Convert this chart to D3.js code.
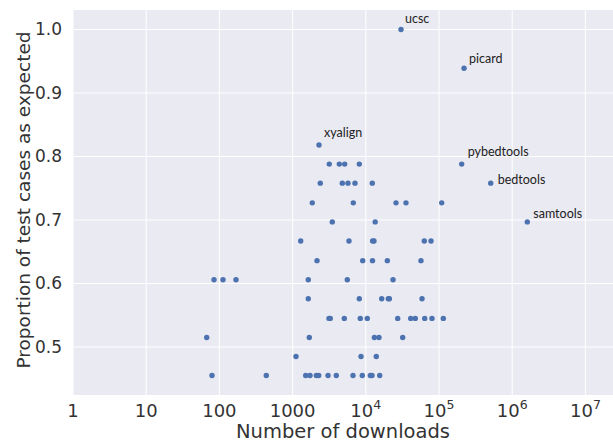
<!DOCTYPE html>
<html lang="en">
<head>
<meta charset="UTF-8">
<title>Downloads vs proportion of test cases</title>
<script src="https://cdnjs.cloudflare.com/ajax/libs/d3/7.8.5/d3.min.js"></script>
<style>
    body { margin: 0; background: #fff; }
    svg { display: block; }
    .tick-label { font-family: "DejaVu Sans", sans-serif; fill: #333; }
    .axis-title { font-family: "DejaVu Sans", sans-serif; fill: #333; }
    .tool-label { font-family: Lato, "Open Sans", sans-serif; fill: #222; }
</style>
</head>
<body>
<div id="chart"></div>
<script>
    // Data
    const downloads = [
        30270, 219800, 2295,
        3170, 4345, 5150, 8150, 204200,
        2390, 4775, 5710, 7115, 12270, 508500,
        1858, 6745, 25860, 35410, 108900,
        3485, 13430, 1608000,
        1290, 5890, 12400, 12940, 62950, 77800,
        2155, 9070, 12350, 19680, 56760,
        84.4, 112, 168.6, 1637, 5590, 23540,
        1637, 8150, 16490, 20300, 21000, 58620,
        3142, 3272, 5085, 8410, 10480, 27290, 41050, 47430, 63790, 80220, 114500,
        67.1, 1691, 13100, 15140, 31920,
        1113, 8600, 13910,
        79.2, 437, 1510, 1729, 2108, 2274, 3048, 3955, 6685, 8955, 11530, 12160, 15490
    ];
    const proportion = [
        1.000, 0.939, 0.818,
        0.788, 0.788, 0.788, 0.788, 0.788,
        0.758, 0.758, 0.758, 0.758, 0.758, 0.758,
        0.727, 0.727, 0.727, 0.727, 0.727,
        0.697, 0.697, 0.697,
        0.667, 0.667, 0.667, 0.667, 0.667, 0.667,
        0.636, 0.636, 0.636, 0.636, 0.636,
        0.606, 0.606, 0.606, 0.606, 0.606, 0.606,
        0.576, 0.576, 0.576, 0.576, 0.576, 0.576,
        0.545, 0.545, 0.545, 0.545, 0.545, 0.545, 0.545, 0.545, 0.545, 0.545, 0.545,
        0.515, 0.515, 0.515, 0.515, 0.515,
        0.485, 0.485, 0.485,
        0.455, 0.455, 0.455, 0.455, 0.455, 0.455, 0.455, 0.455, 0.455, 0.455, 0.455, 0.455, 0.455
    ];

    // Named tools (index into the arrays above)
    const toolNames = ["ucsc", "picard", "xyalign", "pybedtools", "bedtools", "samtools"];
    const toolIndex = [0, 1, 2, 7, 13, 21];

    const xTickExponents = [0, 1, 2, 3, 4, 5, 6, 7];
    const yTicks = [0.5, 0.6, 0.7, 0.8, 0.9, 1.0];

    // Label offsets from the dot (px)
    const labelOffset = [[4, -11], [5, -10], [5, -12], [6, -12], [7, -4], [6, -8]];

    const width = 613;
    const height = 444;
    const margin = { top: 10, right: 0, bottom: 49, left: 73 };

    const svg = d3.select("#chart")
        .append("svg")
        .attr("width", width)
        .attr("height", height);

    const x = d3.scaleLog()
        .domain([1, Math.pow(10, 7.377)])
        .range([margin.left, width - margin.right]);

    const y = d3.scaleLinear()
        .domain([0.4244, 1.0307])
        .range([height - margin.bottom, margin.top]);

    // Background
    svg.append("rect")
        .attr("x", margin.left)
        .attr("y", margin.top)
        .attr("width", width - margin.left - margin.right)
        .attr("height", height - margin.top - margin.bottom)
        .attr("fill", "#eaeaf2");

    // Grid
    svg.append("g")
        .selectAll("line")
        .data(xTickExponents)
        .join("line")
        .attr("x1", d => x(Math.pow(10, d)))
        .attr("x2", d => x(Math.pow(10, d)))
        .attr("y1", margin.top)
        .attr("y2", height - margin.bottom)
        .attr("stroke", "#fff")
        .attr("stroke-width", 1);

    svg.append("g")
        .selectAll("line")
        .data(yTicks)
        .join("line")
        .attr("x1", margin.left)
        .attr("x2", width - margin.right)
        .attr("y1", d => y(d))
        .attr("y2", d => y(d))
        .attr("stroke", "#fff")
        .attr("stroke-width", 1);

    // X tick labels
    const xl = svg.append("g")
        .selectAll("text")
        .data(xTickExponents)
        .join("text")
        .attr("class", "tick-label")
        .attr("x", d => x(Math.pow(10, d)))
        .attr("y", height - margin.bottom + 22)
        .attr("text-anchor", "middle")
        .style("font-size", "18px");

    xl.each(function(d) {
        const t = d3.select(this);
        if (d < 4) {
            t.text(String(Math.pow(10, d)));
        } else {
            t.append("tspan").text("10");
            t.append("tspan")
                .attr("dy", -8)
                .style("font-size", "12.5px")
                .text(d);
        }
    });

    // Y tick labels
    svg.append("g")
        .selectAll("text")
        .data(yTicks)
        .join("text")
        .attr("class", "tick-label")
        .attr("x", margin.left - 11)
        .attr("y", d => y(d))
        .attr("dy", "0.35em")
        .attr("text-anchor", "end")
        .style("font-size", "17px")
        .text(d => d.toFixed(1));

    // Axis titles
    svg.append("text")
        .attr("class", "axis-title")
        .attr("x", 343)
        .attr("y", 438)
        .attr("text-anchor", "middle")
        .style("font-size", "19.5px")
        .text("Number of downloads");

    svg.append("text")
        .attr("class", "axis-title")
        .attr("transform", "translate(30, 200) rotate(-90)")
        .attr("text-anchor", "middle")
        .style("font-size", "18.5px")
        .text("Proportion of test cases as expected");

    // Points
    svg.append("g")
        .selectAll("circle")
        .data(d3.range(downloads.length))
        .join("circle")
        .attr("cx", i => x(downloads[i]))
        .attr("cy", i => y(proportion[i]))
        .attr("r", 2.7)
        .attr("fill", "#4c72b0");

    // Tool labels
    svg.append("g")
        .selectAll("text")
        .data(toolNames)
        .join("text")
        .attr("class", "tool-label")
        .attr("x", (d, k) => x(downloads[toolIndex[k]]) + labelOffset[k][0])
        .attr("y", (d, k) => y(proportion[toolIndex[k]]) + labelOffset[k][1])
        .attr("dy", "0.35em")
        .style("font-size", "12.5px")
        .text(d => d);
</script>
</body>
</html>
